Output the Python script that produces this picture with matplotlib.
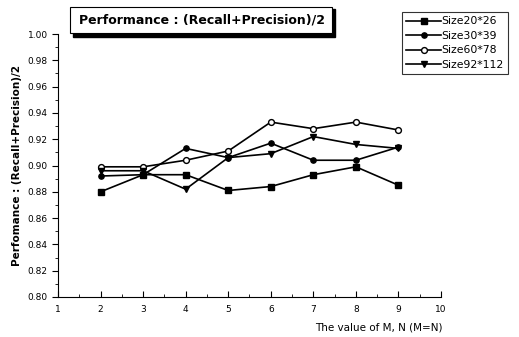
import matplotlib.pyplot as plt
from matplotlib.patches import Rectangle

# Data
m_values = [2, 3, 4, 5, 6, 7, 8, 9]
size20 = [0.880, 0.893, 0.893, 0.881, 0.884, 0.893, 0.899, 0.885]
size30 = [0.892, 0.893, 0.913, 0.906, 0.917, 0.904, 0.904, 0.914]
size60 = [0.899, 0.899, 0.904, 0.911, 0.933, 0.928, 0.933, 0.927]
size92 = [0.896, 0.896, 0.882, 0.906, 0.909, 0.922, 0.916, 0.913]
labels = ['Size20*26', 'Size30*39', 'Size60*78', 'Size92*112']

fig = plt.figure(figsize=(5.19, 3.37), dpi=100)
ax = fig.add_axes([58/519, 1 - 297/337, (441-58)/519, (297-34)/337])

ax.plot(m_values, size20, '-s', color='black', ms=3.8, lw=1.2, label=labels[0])
ax.plot(m_values, size30, '-o', color='black', ms=3.8, lw=1.2, label=labels[1])
ax.plot(m_values, size60, '-o', color='black', mfc='white', ms=4.2, lw=1.2, label=labels[2])
ax.plot(m_values, size92, '-v', color='black', ms=4.6, lw=1.2, label=labels[3])

ax.set_xlim(1, 10)
ax.set_ylim(0.80, 1.00)
ax.set_xticks(range(1, 11))
ax.set_xticks([x + 0.5 for x in range(1, 10)], minor=True)
ax.set_yticks([0.80 + 0.02*i for i in range(11)])
ax.set_yticks([0.81 + 0.02*i for i in range(10)], minor=True)
ax.yaxis.set_major_formatter(plt.FormatStrFormatter('%.2f'))
ax.spines['top'].set_visible(False)
ax.spines['right'].set_visible(False)
ax.tick_params(axis='x', direction='in', length=4, labelsize=6.5, pad=6)
ax.tick_params(axis='x', which='minor', direction='in', length=2.5)
ax.tick_params(axis='y', direction='out', length=4, labelsize=6.5)
ax.tick_params(axis='y', which='minor', direction='out', length=2.5)

ax.set_ylabel('Perfomance : (Recall+Precision)/2', fontsize=7.5, fontweight='bold')
fig.text(379/519, 1 - 327/337, 'The value of M, N (M=N)', fontsize=7.5,
         ha='center', va='center')

# title box with drop shadow
fig.patches.append(Rectangle((73/519, 1 - 37/337), (335-73)/519, 28/337,
                             transform=fig.transFigure, facecolor='black',
                             edgecolor='black'))
fig.patches.append(Rectangle((70/519, 1 - 33/337), (332-70)/519, 26/337,
                             transform=fig.transFigure, facecolor='white',
                             edgecolor='black', lw=0.8))
fig.text(202/519, 1 - 20/337, 'Performance : (Recall+Precision)/2',
         fontsize=9, fontweight='bold', ha='center', va='center')

leg = fig.legend(loc='upper left', bbox_to_anchor=(402/519, 1 - 12/337),
                 fontsize=7.8, frameon=True, fancybox=False, edgecolor='black',
                 borderpad=0.4, labelspacing=0.42, handlelength=3.2,
                 handletextpad=0.05, borderaxespad=0)
leg.get_frame().set_linewidth(0.8)

fig.savefig('out.png', dpi=100)
